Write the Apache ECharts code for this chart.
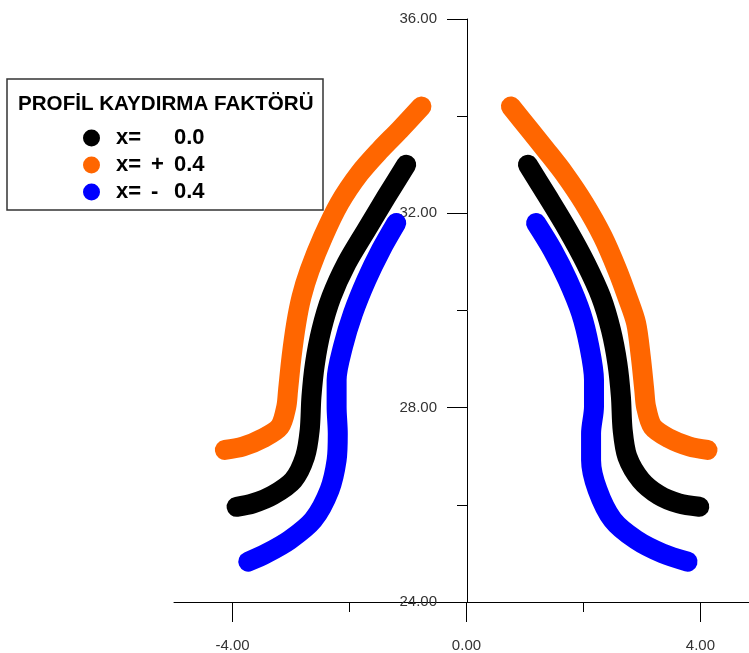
<!DOCTYPE html>
<html>
<head>
<meta charset="utf-8">
<script src="https://cdn.jsdelivr.net/npm/echarts@6/dist/echarts.min.js"></script>
<style>
  html, body { margin: 0; padding: 0; background: #fff; }
  #main { width: 749px; height: 653px; }
</style>
</head>
<body>
<div id="main"></div>
<script>
// profil egrileri [x, y]
var blackLeft = [[-1.03,33.00],[-1.37,32.34],[-1.71,31.66],[-2.05,30.97],[-2.31,30.28],[-2.48,29.60],[-2.59,28.91],[-2.65,28.23],[-2.68,27.54],[-2.76,26.99],[-2.96,26.51],[-3.31,26.20],[-3.65,26.03],[-3.93,25.96]];
var blackRight = [[1.05,33.00],[1.39,32.34],[1.73,31.66],[2.04,30.97],[2.30,30.28],[2.47,29.60],[2.58,28.91],[2.64,28.23],[2.67,27.54],[2.75,26.99],[2.98,26.51],[3.29,26.20],[3.63,26.03],[3.98,25.96]];
var orangeLeft = [[-0.77,34.20],[-1.14,33.72],[-1.48,33.30],[-1.83,32.82],[-2.17,32.21],[-2.45,31.52],[-2.68,30.83],[-2.82,30.28],[-2.91,29.74],[-2.99,29.05],[-3.05,28.36],[-3.08,28.02],[-3.19,27.61],[-3.48,27.37],[-3.82,27.20],[-4.13,27.13]];
var orangeRight = [[0.76,34.20],[1.08,33.72],[1.36,33.30],[1.67,32.82],[2.01,32.21],[2.33,31.52],[2.58,30.83],[2.75,30.28],[2.90,29.74],[2.98,29.05],[3.04,28.36],[3.07,28.02],[3.18,27.61],[3.46,27.37],[3.81,27.20],[4.12,27.13]];
var blueLeft = [[-1.20,31.80],[-1.46,31.25],[-1.71,30.63],[-1.94,29.94],[-2.11,29.26],[-2.22,28.57],[-2.22,28.02],[-2.20,27.47],[-2.22,26.92],[-2.34,26.31],[-2.62,25.69],[-3.02,25.28],[-3.42,25.00],[-3.73,24.83]];
var blueRight = [[1.19,31.80],[1.47,31.25],[1.73,30.63],[1.96,29.94],[2.10,29.26],[2.18,28.57],[2.18,28.02],[2.13,27.47],[2.13,26.92],[2.24,26.31],[2.50,25.69],[2.90,25.28],[3.35,25.00],[3.78,24.83]];

var legendTitle = 'PROFİL KAYDIRMA FAKTÖRÜ';
var names = ['x=    0.0', 'x= + 0.4', 'x= -  0.4'];
var xMajorTicks = [-4, 0, 4];
var xMinorTicks = [-2, 2];

var FONT = 'Liberation Sans, Arial, sans-serif';
var colors = ['#000000', '#FF6600', '#0000FF'];

function curve(name, data, color) {
    return {
        name: name,
        type: 'line',
        data: data,
        smooth: 0.3,
        showSymbol: false,
        itemStyle: { color: color },
        lineStyle: { color: color, width: 20, cap: 'round', join: 'round' },
        z: 3
    };
}

var legendText = { fontSize: 22, fontWeight: 'bold', color: '#000', fontFamily: FONT, lineHeight: 18 };

var myChart = echarts.init(document.getElementById('main'));
var option = {
    animation: false,
    backgroundColor: '#fff',
    grid: { left: 174, top: 19, width: 576, height: 583 },
    xAxis: [
        {
            type: 'value', min: -5, max: 4.83, position: 'bottom',
            axisLine: { onZero: false, lineStyle: { color: '#000', width: 1 } },
            axisTick: { customValues: xMajorTicks, length: 20, lineStyle: { color: '#000' } },
            axisLabel: {
                customValues: xMajorTicks, margin: 36, color: '#333', fontSize: 15, fontFamily: FONT,
                formatter: function (v) { return v.toFixed(2); }
            },
            splitLine: { show: false }
        },
        {
            type: 'value', min: -5, max: 4.83, position: 'bottom',
            axisLine: { show: false, onZero: false },
            axisTick: { customValues: xMinorTicks, length: 10, lineStyle: { color: '#000' } },
            axisLabel: { show: false },
            splitLine: { show: false }
        }
    ],
    yAxis: {
        type: 'value', min: 24, max: 36, interval: 4,
        position: 'left', offset: -293,
        axisLine: { show: true, onZero: false, lineStyle: { color: '#000', width: 1 } },
        axisTick: { show: true, length: 20, lineStyle: { color: '#000' } },
        minorTick: { show: true, splitNumber: 2, length: 10, lineStyle: { color: '#000' } },
        axisLabel: {
            margin: 30, color: '#333', fontSize: 15, fontFamily: FONT,
            formatter: function (v) { return v.toFixed(2); }
        },
        splitLine: { show: false }
    },
    legend: {
        data: names,
        orient: 'vertical',
        left: 83, top: 127,
        padding: 0,
        icon: 'circle',
        itemWidth: 17, itemHeight: 17,
        itemGap: 5,
        itemTextGap: 17,
        z: 10,
        formatter: function (n) {
            var rest = n.slice(2).trim();
            var sign = rest.length > 3 ? rest.charAt(0) : '';
            var val = rest.slice(-3);
            return '{a|x=}{b|' + sign + '}{c|' + val + '}';
        },
        textStyle: {
            rich: {
                a: Object.assign({ width: 35, padding: [0, 0, 0, 11] }, legendText),
                b: Object.assign({ width: 23 }, legendText),
                c: legendText
            }
        }
    },
    graphic: [{
        type: 'group', z: 5,
        children: [
            { type: 'rect', shape: { x: 7, y: 79, width: 316, height: 131 },
              style: { fill: '#fff', stroke: '#333', lineWidth: 1.5 } },
            { type: 'text', x: 18, y: 104,
              style: { text: legendTitle, fill: '#000', font: 'bold 20.6px ' + FONT, verticalAlign: 'middle' } }
        ]
    }],
    series: [
        curve(names[1], orangeLeft, colors[1]),
        curve(names[1], orangeRight, colors[1]),
        curve(names[0], blackLeft, colors[0]),
        curve(names[0], blackRight, colors[0]),
        curve(names[2], blueLeft, colors[2]),
        curve(names[2], blueRight, colors[2])
    ]
};
myChart.setOption(option);
</script>
</body>
</html>
